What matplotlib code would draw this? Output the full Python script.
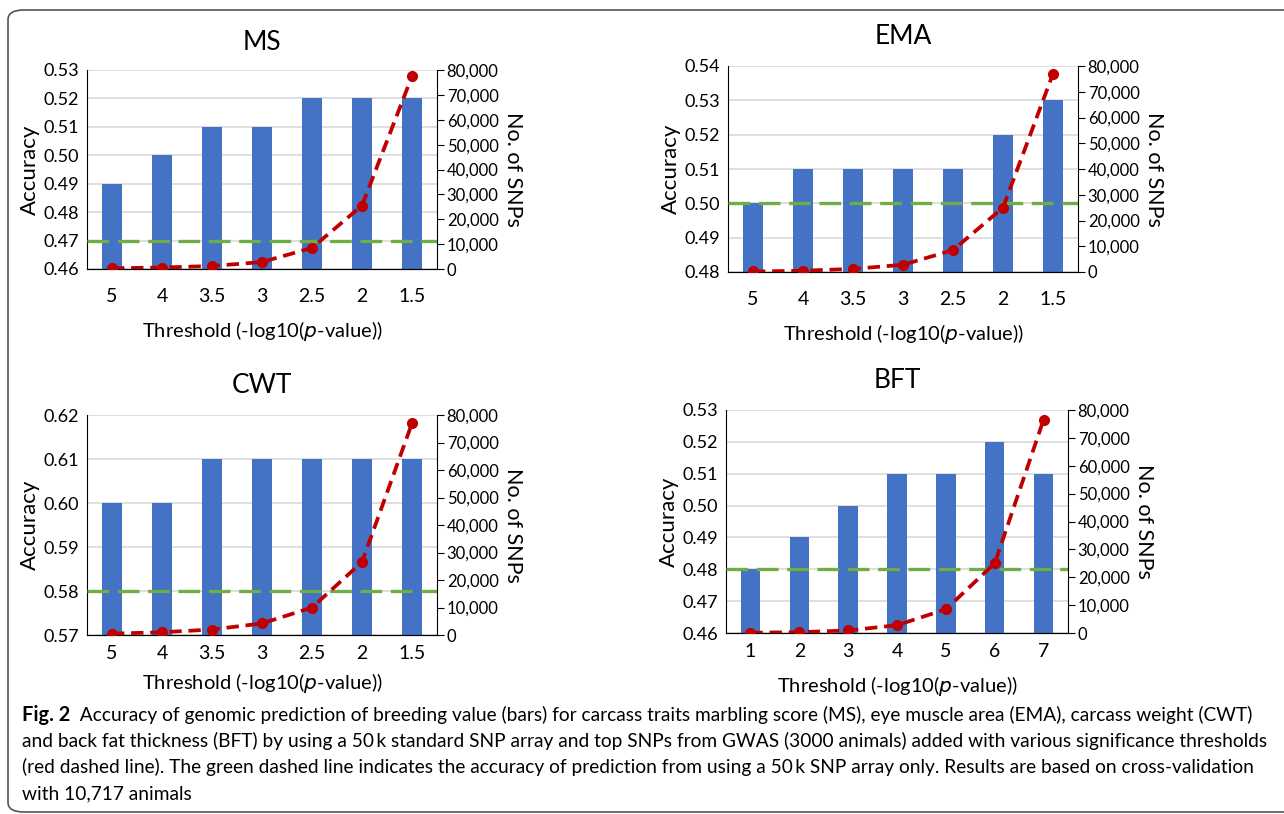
import matplotlib.pyplot as plt
from matplotlib.patches import FancyBboxPatch
from matplotlib.ticker import FuncFormatter

# data
thresholds_a = ['5', '4', '3.5', '3', '2.5', '2', '1.5']
thresholds_bft = ['1', '2', '3', '4', '5', '6', '7']

acc_ms = [0.49, 0.50, 0.51, 0.51, 0.52, 0.52, 0.52]
acc_ema = [0.50, 0.51, 0.51, 0.51, 0.51, 0.52, 0.53]
acc_cwt = [0.60, 0.60, 0.61, 0.61, 0.61, 0.61, 0.61]
acc_bft = [0.48, 0.49, 0.50, 0.51, 0.51, 0.52, 0.51]

snps_ms = [300, 600, 1200, 2800, 8500, 25500, 77500]
snps_ema = [200, 500, 1200, 2800, 8500, 25000, 77000]
snps_cwt = [500, 1000, 2000, 4200, 10000, 26500, 77000]
snps_bft = [100, 300, 900, 2800, 8500, 25000, 76500]

base_ms, base_ema, base_cwt, base_bft = 0.47, 0.50, 0.58, 0.48

W, H = 1284, 814
BLUE = '#4472C4'
GREEN = '#70AD47'
RED = '#C00000'
FONT = ['Lato', 'DejaVu Sans']

plt.rcParams['font.family'] = FONT
fig = plt.figure(figsize=(W / 100, H / 100), dpi=100)


def box(l, t, r, b):
    return [l / W, 1 - b / H, (r - l) / W, (b - t) / H]


def panel(rect, title, labels, acc, snps, base, ylim, title_y, tpad, lpad):
    ax = fig.add_axes(box(*rect))
    x = list(range(len(labels)))
    ax.set_axisbelow(True)
    ax.yaxis.grid(True, color='#D9D9D9', linewidth=1.2)
    ax.bar(x, [a - ylim[0] for a in acc], bottom=ylim[0], width=0.4, color=BLUE, zorder=2)
    ax.axhline(base, color=GREEN, linestyle=(0, (6.5, 2.6)), linewidth=2.4, zorder=3)
    ax.set_xlim(-0.5, len(labels) - 0.5)
    ax.set_ylim(*ylim)
    ticks = [round(ylim[0] + 0.01 * i, 2) for i in range(int(round((ylim[1] - ylim[0]) / 0.01)) + 1)]
    ax.set_yticks(ticks)
    ax.set_yticklabels(['%.2f' % t for t in ticks])
    ax.set_xticks(x)
    ax.set_xticklabels(labels)
    ax.tick_params(axis='x', length=0, pad=tpad, labelsize=14)
    ax.tick_params(axis='y', length=0, pad=6, labelsize=13)
    ax.spines['top'].set_visible(False)
    ax.spines['right'].set_visible(False)
    ax.set_ylabel('Accuracy', fontsize=16, labelpad=2)
    ax.set_xlabel('Threshold (-log10($\\it{p}$-value))', fontsize=14.5, labelpad=lpad)

    ax2 = ax.twinx()
    ax2.plot(x, snps, color=RED, linestyle=(0, (3.3, 1.8)), linewidth=2.7,
             marker='o', markersize=7, zorder=4)
    ax2.set_ylim(0, 80000)
    ax2.set_yticks(range(0, 80001, 10000))
    ax2.yaxis.set_major_formatter(FuncFormatter(lambda v, p: '{:,.0f}'.format(v)))
    ax2.tick_params(axis='y', length=5, pad=2, labelsize=12)
    ax2.spines['top'].set_visible(False)
    ax2.spines['left'].set_visible(False)
    ax2.set_ylabel('No. of SNPs', fontsize=15.5, rotation=270)
    ax2.yaxis.set_label_coords(1 + 76 / (rect[2] - rect[0]), 0.5)
    ax2.yaxis.label.set_va('center')

    fig.text((rect[0] + rect[2]) / 2 / W, 1 - title_y / H, title, fontsize=19,
             ha='center', va='center')


panel((87, 70, 437, 269), 'MS', thresholds_a, acc_ms, snps_ms, base_ms, (0.46, 0.53), 42, 14, 10)
panel((728, 66, 1078, 272), 'EMA', thresholds_a, acc_ema, snps_ema, base_ema, (0.48, 0.54), 37, 14, 10)
panel((87, 415, 437, 635), 'CWT', thresholds_a, acc_cwt, snps_cwt, base_cwt, (0.57, 0.62), 385, 7, 7)
panel((726, 410, 1068, 633), 'BFT', thresholds_bft, acc_bft, snps_bft, base_bft, (0.46, 0.53), 381, 7, 10)

# rounded frame around the figure
frame = FancyBboxPatch((8 / W, 1 - 812 / H), 1.05, (812 - 10) / H,
                       boxstyle='round,pad=0,rounding_size=0.012',
                       transform=fig.transFigure, fill=False,
                       edgecolor='#555555', linewidth=1.2, clip_on=False)
fig.patches.append(frame)

# caption
cap_size = 13.8
lines = [
    'Accuracy of genomic prediction of breeding value (bars) for carcass traits marbling score (MS), eye muscle area (EMA), carcass weight (CWT)',
    'and back fat thickness (BFT) by using a 50\u2009k standard SNP array and top SNPs from GWAS (3000 animals) added with various significance thresholds',
    '(red dashed line). The green dashed line indicates the accuracy of prediction from using a 50\u2009k SNP array only. Results are based on cross-validation',
    'with 10,717 animals',
]
t0 = fig.text(22 / W, 1 - 721 / H, 'Fig. 2', fontsize=cap_size + 0.6, fontweight='bold',
              va='baseline', ha='left')
t1 = fig.text(0, 0, '  ' + lines[0], fontsize=cap_size, va='baseline', ha='left')
for i, ln in enumerate(lines[1:]):
    fig.text(22 / W, 1 - (747 + 26 * i) / H, ln, fontsize=cap_size,
             va='baseline', ha='left')

fig.canvas.draw()
bb = t0.get_window_extent()
t1.set_position((bb.x1 / W, 1 - 721 / H))

fig.savefig('out.png', dpi=100)
